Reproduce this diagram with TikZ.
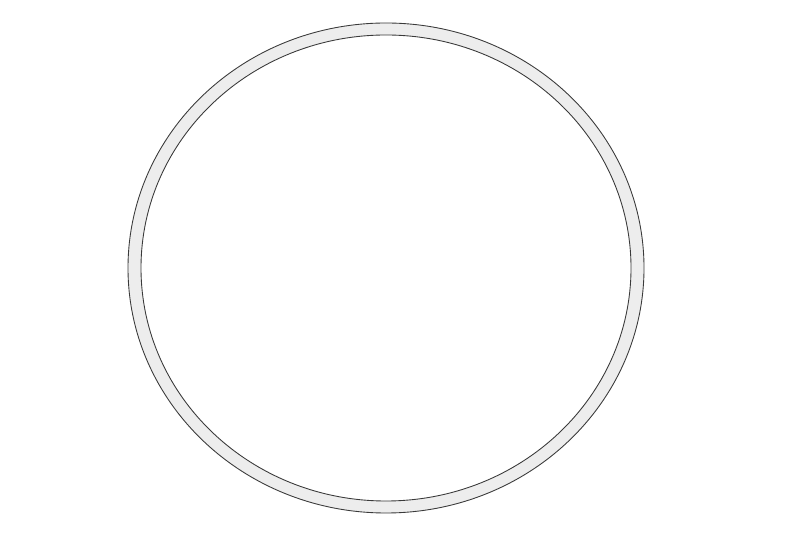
\documentclass[tikz,border=0pt]{standalone}
\usepackage{tikz}
\usepackage{xcolor}
\definecolor{rgedge}{HTML}{3A3A3A}
\definecolor{rgfill}{HTML}{EDEDED}

\begin{document}
\begin{tikzpicture}[
  ringband/.style={draw=rgedge, line width=0.5pt, fill=rgfill, even odd rule},
]
\useasboundingbox (0,0) rectangle (16,10.66);

% Gasket ring (outer and inner edge)
\coordinate (rc) at (7.72, 5.30);
\draw[ringband] (rc) ellipse [x radius=5.16, y radius=4.90]
                (rc) ellipse [x radius=4.90, y radius=4.66];

\end{tikzpicture}
\end{document}
